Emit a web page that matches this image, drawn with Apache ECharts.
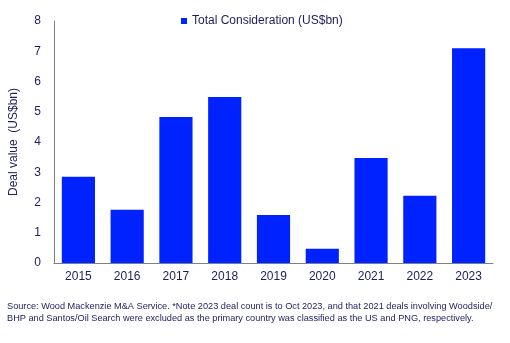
<!DOCTYPE html>
<html><head><meta charset="utf-8">
<script src="https://cdn.jsdelivr.net/npm/echarts@6/dist/echarts.min.js"></script>
<style>html,body{margin:0;padding:0;background:#fff}#c{width:510px;height:343px}</style>
</head><body><div id="c"></div>
<script>
const categories = ["2015","2016","2017","2018","2019","2020","2021","2022","2023"];
const totalConsideration = [2.85, 1.76, 4.83, 5.49, 1.59, 0.47, 3.47, 2.22, 7.1];
const seriesName = "Total Consideration (US$bn)";
const yAxisTitle = "Deal value  (US$bn)";
const footnote = "Source: Wood Mackenzie M&A Service. *Note 2023 deal count is to Oct 2023, and that 2021 deals involving Woodside/\nBHP and Santos/Oil Search were excluded as the primary country was classified as the US and PNG, respectively.";
const txt = "#1c1c5e";
const chart = echarts.init(document.getElementById('c'));
chart.setOption({
  animation: false,
  textStyle: {fontFamily: "Liberation Sans, Arial, sans-serif"},
  grid: {left: 47, right: 17, top: 21, bottom: 80},
  legend: {
    data: [seriesName], top: 10, left: 176, itemWidth: 6, itemHeight: 6, itemGap: 3,
    icon: 'rect', textStyle: {color: txt, fontSize: 12, fontFamily: "Liberation Sans, Arial, sans-serif"}
  },
  title: {
    text: footnote, left: 2, top: 295,
    textStyle: {fontSize: 9.2, fontWeight: 'normal', color: txt, lineHeight: 12.5, fontFamily: "Liberation Sans, Arial, sans-serif"}
  },
  xAxis: {
    type: 'category', data: categories,
    axisLine: {lineStyle: {color: '#808080', width: 1}},
    axisTick: {show: false},
    axisLabel: {color: txt, fontSize: 12, margin: 8}
  },
  yAxis: {
    type: 'value', min: 0, max: 8, interval: 1,
    name: yAxisTitle, nameLocation: 'middle', nameGap: 34, nameRotate: 90,
    nameTextStyle: {color: txt, fontSize: 12},
    axisLine: {show: true, lineStyle: {color: '#808080', width: 1}},
    axisTick: {show: false},
    splitLine: {show: false},
    axisLabel: {color: txt, fontSize: 12, margin: 13}
  },
  series: [{
    name: seriesName, type: 'bar', data: totalConsideration,
    barWidth: '68%', itemStyle: {color: '#0022FF'}
  }]
});
</script></body></html>
